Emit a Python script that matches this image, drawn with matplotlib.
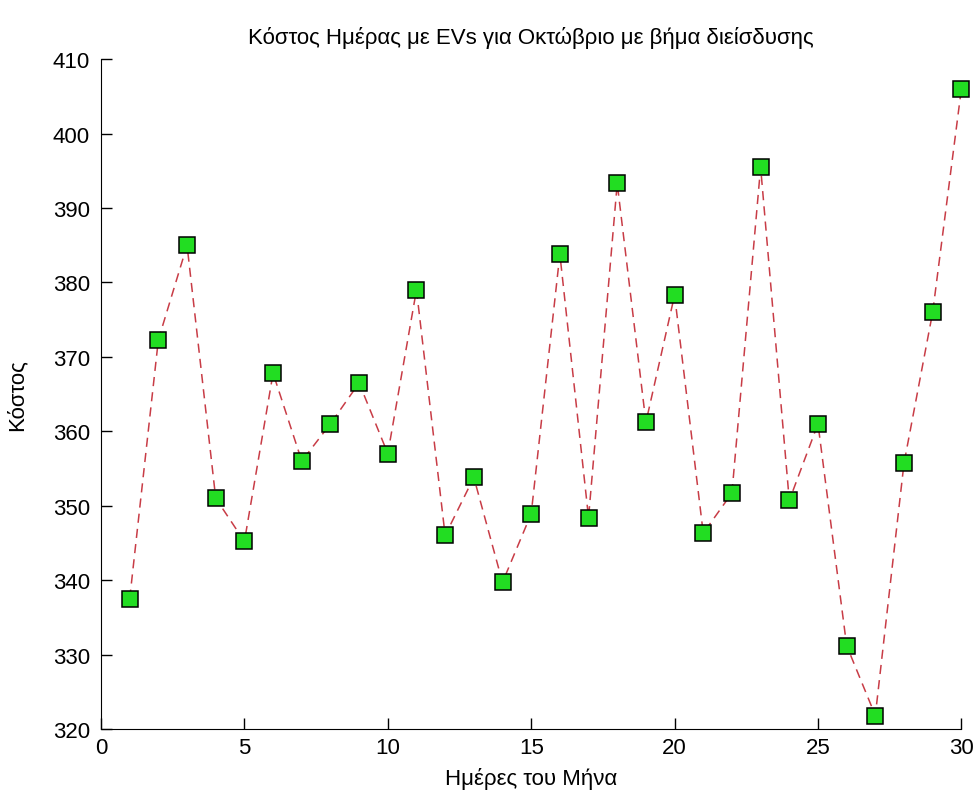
import matplotlib
matplotlib.use('Agg')
import matplotlib.pyplot as plt

plt.rcParams['font.family'] = ['Liberation Sans Narrow', 'Liberation Sans', 'DejaVu Sans']

# daily cost with EVs, October
days = list(range(1, 31))
cost = [337.5, 372.3, 385.0, 351.0, 345.2, 367.8, 356.0, 361.0, 366.5, 357.0,
        379.0, 346.0, 353.8, 339.7, 348.9, 383.8, 348.4, 393.3, 361.2, 378.3,
        346.3, 351.7, 395.5, 350.7, 361.0, 331.2, 321.8, 355.7, 376.0, 406.0]

xticks = [0, 5, 10, 15, 20, 25, 30]
yticks = list(range(320, 411, 10))

fig = plt.figure(figsize=(9.76, 8.03), dpi=100)
ax = fig.add_axes([0.1035, 0.091, 0.8815, 0.834])

ax.plot(days, cost, linestyle='--', color='#c83c46', linewidth=1.1,
        dashes=(6, 4), marker='s', markersize=12,
        markerfacecolor='#22dd22', markeredgecolor='black', markeredgewidth=1.1,
        clip_on=False)

ax.set_xlim(0, 30)
ax.set_ylim(320, 410)
ax.set_xticks(xticks)
ax.set_yticks(yticks)
ax.spines['top'].set_visible(False)
ax.spines['right'].set_visible(False)
ax.tick_params(direction='in', length=8, labelsize=16, width=1)
ax.tick_params(axis='y', pad=8)
ax.tick_params(axis='x', pad=6)

ax.set_title('Κόστος Ημέρας με EVs για Οκτώβριο με βήμα διείσδυσης', fontsize=16, pad=12)
ax.set_xlabel('Ημέρες του Μήνα', fontsize=16, labelpad=6)
ax.set_ylabel('Κόστος', fontsize=16, labelpad=18)

fig.savefig('out.png', dpi=100)
